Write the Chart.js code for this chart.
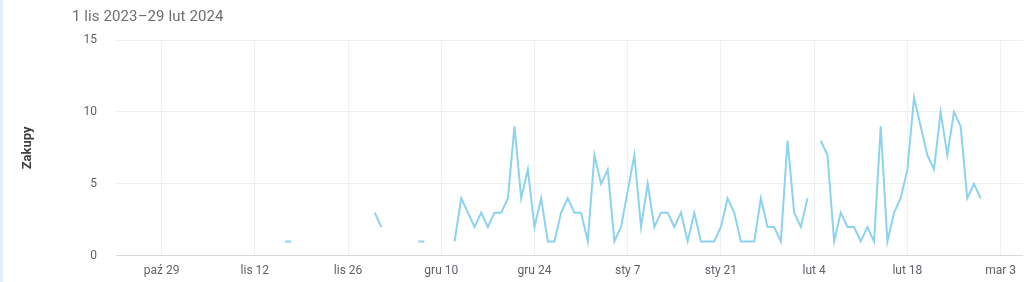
<!DOCTYPE html>
<html>
<head>
<meta charset="utf-8">
<script src="https://cdn.jsdelivr.net/npm/chart.js@4/dist/chart.umd.min.js"></script>
<style>
  html, body { margin: 0; padding: 0; background: #fff; }
  #wrap { position: relative; width: 1024px; height: 282px; overflow: hidden; }
  #strip { position: absolute; left: 0; top: 0; width: 3px; height: 282px; background: #e6eefb; }
  #title { position: absolute; left: 72px; top: 7px; font: 15px Roboto, "Noto Sans", sans-serif; color: #6b6e72; letter-spacing: 0.1px; }
  canvas { position: absolute; left: 0; top: 0; }
</style>
</head>
<body>
<div id="wrap">
  <canvas id="c" width="1024" height="282"></canvas>
  <div id="strip"></div>
  <div id="title">1 lis 2023–29 lut 2024</div>
</div>
<script>
// ---- data ----
const startDate = '2023-11-01';          // first day of the series
const axisOrigin = '2023-10-29';         // first tick date
const tickStepDays = 14;
const tickLabels = ['paź 29', 'lis 12', 'lis 26', 'gru 10', 'gru 24', 'sty 7', 'sty 21', 'lut 4', 'lut 18', 'mar 3'];
const yTicks = [0, 5, 10, 15];
const n = null;
const purchasesNov = [n,n,n,n,n,n,n,n,n,n,n,n,n,n,n,n, 1, n,n,n,n,n,n,n,n,n,n,n,n, 3];
const purchasesDec = [2, n,n,n,n,n, 1, n,n,n,n, 1,4,3,2,3,2,3,3,4,9,4,6,2,4,1,1,3,4,3,3];
const purchasesJan = [1,7,5,6,1,2,4.5,7,2,5,2,3,3,2,3,1,3,1,1,1,2,4,3,1,1,1,4,2,2,1,8];
const purchasesFeb = [3,2,4,n,8,7,1,3,2,2,1,2,1,9,1,3,4,6,11,9,7,6,10,7,10,9,4,5,4];
const purchases = [].concat(purchasesNov, purchasesDec, purchasesJan, purchasesFeb);

const DAY = 86400000;
const dayDiff = (a, b) => Math.round((Date.parse(b + 'T00:00:00Z') - Date.parse(a + 'T00:00:00Z')) / DAY);
const offset = dayDiff(axisOrigin, startDate);
const points = purchases.map((v, i) => ({ x: offset + i, y: v }));
const tickValues = tickLabels.map((_, i) => i * tickStepDays);

const isIsolated = (i) => {
  const v = purchases[i];
  if (v === null || v === undefined) return false;
  const p = i > 0 ? purchases[i - 1] : null;
  const q = i < purchases.length - 1 ? purchases[i + 1] : null;
  return (p === null) && (q === null);
};

Chart.defaults.font.family = 'Roboto, "Noto Sans", sans-serif';
const lineColor = '#8dd2ee';

new Chart(document.getElementById('c'), {
  type: 'line',
  data: {
    datasets: [{
      data: points,
      borderColor: lineColor,
      backgroundColor: lineColor,
      borderWidth: 2,
      tension: 0,
      spanGaps: false,
      pointStyle: 'line',
      pointRadius: (ctx) => isIsolated(ctx.dataIndex) ? 3 : 0,
      pointBorderWidth: 2,
      pointBorderColor: lineColor,
      pointHoverRadius: 0,
      fill: false
    }]
  },
  options: {
    responsive: false,
    animation: false,
    events: [],
    layout: { padding: { top: 40, left: 0, right: 0, bottom: 0 } },
    plugins: { legend: { display: false }, tooltip: { enabled: false } },
    scales: {
      x: {
        type: 'linear',
        min: -6.85,
        max: 129.34,
        afterBuildTicks: (scale) => { scale.ticks = tickValues.map(v => ({ value: v })); },
        afterFit: (scale) => { scale.height = 25; },
        ticks: {
          autoSkip: false,
          maxRotation: 0,
          padding: 8,
          color: '#5f6368',
          font: { size: 12 },
          callback: (value) => {
            const idx = tickValues.indexOf(value);
            return idx >= 0 ? tickLabels[idx] : '';
          }
        },
        grid: { color: '#f0f0f0', drawTicks: false, lineWidth: 1 },
        border: { display: true, color: '#d9d9d9', width: 1 }
      },
      y: {
        min: 0,
        max: 15,
        afterBuildTicks: (scale) => { scale.ticks = yTicks.map(v => ({ value: v })); },
        afterFit: (scale) => { scale.width = 116; },
        ticks: { padding: 19, color: '#5f6368', font: { size: 12 } },
        grid: { color: (ctx) => ctx.tick && ctx.tick.value === 0 ? '#d9d9d9' : '#f0f0f0', drawTicks: false },
        border: { display: false },
        title: {
          display: true,
          text: 'Zakupy',
          color: '#3c4043',
          font: { size: 13, weight: 'bold' },
          padding: { top: 20, bottom: 0 }
        }
      }
    }
  }
});
</script>
</body>
</html>
